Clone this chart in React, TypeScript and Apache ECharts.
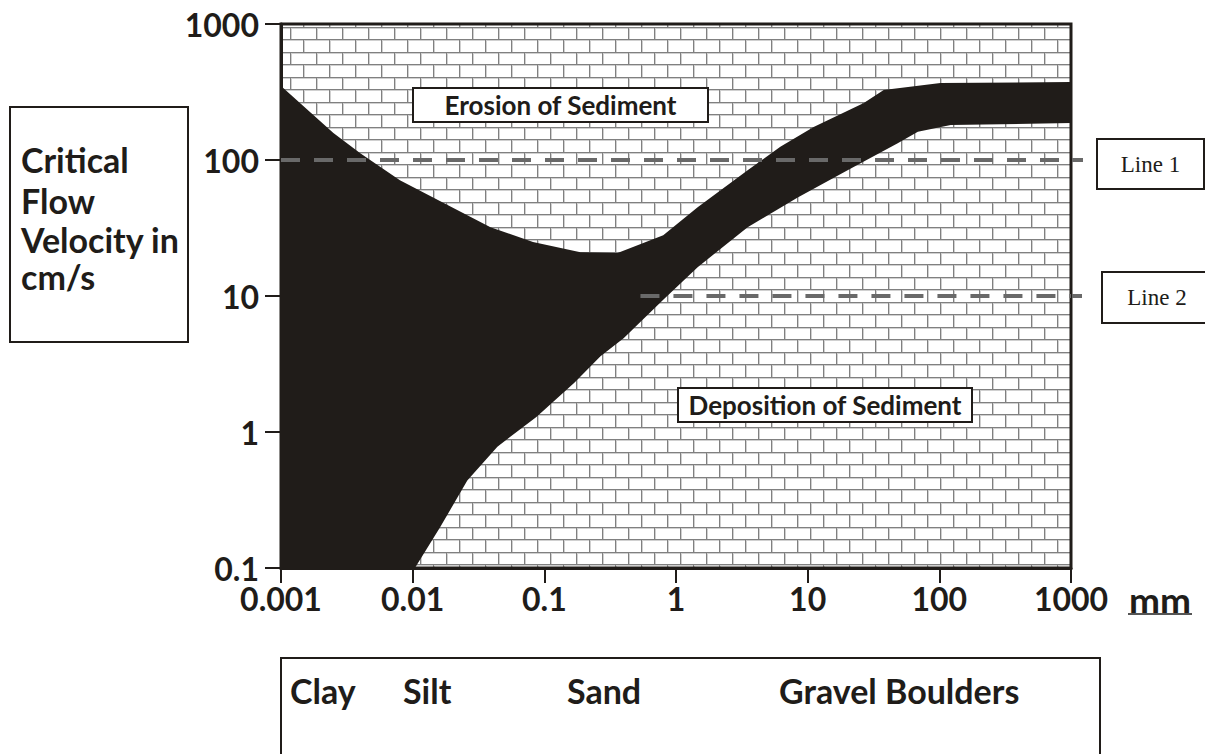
import React, { useEffect, useRef } from "react";
import * as echarts from "echarts";

// ---- data (grain size in mm, critical velocity in cm/s) ----
const xAxisMin = 0.001;
const xAxisMax = 1000;
const yAxisMin = 0.1;
const yAxisMax = 1000;

// upper boundary of the transport band (erosion curve)
const erosionSize = [0.001, 0.0025, 0.004, 0.008, 0.0143, 0.039, 0.082, 0.188, 0.36, 0.8, 1.46, 3.5, 6.2, 11.1, 26.7, 37.8, 102, 1000];
const erosionVelocity = [350, 158, 112, 71, 53, 32, 25, 21, 20.7, 28, 45, 84, 125, 175, 262, 327, 368, 375];

// lower boundary of the transport band (deposition curve)
const depositionSize = [0.0104, 0.0162, 0.026, 0.044, 0.087, 0.169, 0.267, 0.4, 0.8, 1.46, 3.5, 8.4, 20.1, 48.3, 68.7, 122, 1000];
const depositionVelocity = [0.1, 0.2, 0.44, 0.78, 1.29, 2.3, 3.6, 4.9, 9.4, 16.3, 32, 53, 84, 133, 161, 181, 187];

// dashed reference lines
const refLineNames = ["Line 1", "Line 2"];
const refLineVelocity = [100, 10];
const refLineStart = [0.001, 0.537];
const refLineEnd = 1000;

const regionLabels = ["Erosion of Sediment", "Transportation of Sediment", "Deposition of Sediment"];
const grainClasses = ["Clay", "Silt", "Sand", "Gravel Boulders"];
const yTitleLines = ["Critical", "Flow", "Velocity in", "cm/s"];
const xUnit = "mm";

const DARK = "#201c19";
const DASH = "#696969";
const FONT = "Lato";

function makeBrickCanvas(): HTMLCanvasElement {
  const c = document.createElement("canvas");
  c.width = 26;
  c.height = 25;
  const g = c.getContext("2d")!;
  g.fillStyle = "#ffffff";
  g.fillRect(0, 0, 26, 25);
  // light halo
  g.fillStyle = "#d0d0d0";
  g.fillRect(0, 3, 26, 1);
  g.fillRect(0, 15, 26, 1);
  g.fillRect(5, 3, 1, 11);
  g.fillRect(18, 15, 1, 10);
  g.fillRect(18, 0, 1, 2);
  // mortar lines
  g.fillStyle = "#808080";
  g.fillRect(0, 2, 26, 1);
  g.fillRect(0, 14, 26, 1);
  g.fillRect(4, 3, 1, 11);
  g.fillRect(17, 15, 1, 10);
  g.fillRect(17, 0, 1, 2);
  return c;
}

function fmt(v: number): string {
  return String(+v.toPrecision(6));
}

export default function App() {
  const ref = useRef<HTMLDivElement>(null);

  useEffect(() => {
    if (!ref.current) return;
    const chart = echarts.init(ref.current, null, { renderer: "svg" });
    const brick = makeBrickCanvas();

    const textStyle = (fs: number, extra: any = {}) => ({
      fontFamily: FONT,
      fontWeight: "bold",
      fontSize: fs,
      fill: DARK,
      ...extra,
    });

    const boxLabel = (x: number, y: number, w: number, h: number, text: string, fs: number, family = FONT, weight = "bold") => ({
      type: "group",
      z: 100,
      children: [
        { type: "rect", shape: { x, y, width: w, height: h }, style: { fill: "#fff", stroke: DARK, lineWidth: 2 } },
        {
          type: "text",
          x: x + w / 2,
          y: y + h / 2,
          style: { text, fontFamily: family, fontWeight: weight, fontSize: fs, fill: DARK, align: "center", verticalAlign: "middle" },
        },
      ],
    });

    const graphics: any[] = [
      // y-axis title box
      { type: "rect", z: 100, shape: { x: 10, y: 107, width: 178, height: 235 }, style: { fill: "#fff", stroke: DARK, lineWidth: 2 } },
      ...yTitleLines.map((t, i) => ({
        type: "text",
        z: 101,
        x: 21,
        y: [159, 200, 239, 276][i],
        style: textStyle(34, { text: t, align: "left", verticalAlign: "middle" }),
      })),
      boxLabel(413, 88, 295, 34, regionLabels[0], 26),
      boxLabel(293, 271, 345, 31, regionLabels[1], 24.5),
      boxLabel(678, 388, 294, 34, regionLabels[2], 26),
      boxLabel(1097, 139, 107, 50, refLineNames[0], 23, "Liberation Serif", "normal"),
      boxLabel(1102, 272, 110, 51, refLineNames[1], 23, "Liberation Serif", "normal"),
      // short dashed stubs past the right frame
      { type: "line", z: 6, shape: { x1: 1072, y1: 160, x2: 1083, y2: 160 }, style: { stroke: DASH, lineWidth: 4 } },
      { type: "line", z: 6, shape: { x1: 1072, y1: 296, x2: 1082, y2: 296 }, style: { stroke: DASH, lineWidth: 4 } },
      // unit
      { type: "text", z: 100, x: 1160, y: 599, style: textStyle(37, { text: xUnit, align: "center", verticalAlign: "middle" }) },
      { type: "line", z: 100, shape: { x1: 1128, y1: 614, x2: 1192, y2: 614 }, style: { stroke: "#555", lineWidth: 2 } },
      // grain class box
      { type: "rect", z: 100, shape: { x: 281, y: 658, width: 819, height: 140 }, style: { fill: "#fff", stroke: DARK, lineWidth: 2 } },
      ...grainClasses.map((t, i) => ({
        type: "text",
        z: 101,
        x: [290, 403, 567, 779][i],
        y: 690,
        style: textStyle(34, { text: t, align: "left", verticalAlign: "middle" }),
      })),
    ];

    const option: any = {
      animation: false,
      grid: {
        left: 281,
        right: 134,
        top: 24,
        bottom: 186,
        show: true,
        backgroundColor: { image: brick, repeat: "repeat", imageWidth: 26, imageHeight: 25 },
        borderColor: DARK,
        borderWidth: 3,
        outerBoundsMode: "none",
      },
      xAxis: {
        type: "log",
        logBase: 10,
        min: xAxisMin,
        max: xAxisMax,
        axisLine: { show: true, lineStyle: { color: DARK, width: 3 } },
        axisTick: { show: true, inside: false, length: 15, lineStyle: { color: DARK, width: 2 } },
        minorTick: { show: false },
        splitLine: { show: false },
        axisLabel: {
          formatter: (v: number) => fmt(v),
          fontFamily: FONT,
          fontWeight: "bold",
          fontSize: 32,
          color: DARK,
          margin: 14,
        },
      },
      yAxis: {
        type: "log",
        logBase: 10,
        min: yAxisMin,
        max: yAxisMax,
        axisLine: { show: true, lineStyle: { color: DARK, width: 3 } },
        axisTick: { show: true, inside: false, length: 16, lineStyle: { color: DARK, width: 2 } },
        minorTick: { show: false },
        splitLine: { show: false },
        axisLabel: {
          formatter: (v: number) => fmt(v),
          fontFamily: FONT,
          fontWeight: "bold",
          fontSize: 32,
          color: DARK,
          margin: 22,
        },
      },
      series: [
        {
          type: "custom",
          silent: true,
          z: 2,
          data: [[1, 1]],
          renderItem: (_params: any, api: any) => {
            const pts: number[][] = [];
            for (let i = 0; i < erosionSize.length; i++) pts.push(api.coord([erosionSize[i], erosionVelocity[i]]));
            for (let i = depositionSize.length - 1; i >= 0; i--) pts.push(api.coord([depositionSize[i], depositionVelocity[i]]));
            pts.push(api.coord([xAxisMin, yAxisMin]));
            return { type: "polygon", shape: { points: pts }, style: { fill: DARK } };
          },
        },
        ...refLineNames.map((name, i) => ({
          type: "line",
          name,
          silent: true,
          z: 5,
          clip: false,
          symbol: "none",
          data: [
            [refLineStart[i], refLineVelocity[i]],
            [refLineEnd, refLineVelocity[i]],
          ],
          lineStyle: { color: DASH, width: 4, type: [19, 14], cap: "butt" },
        })),
      ],
      graphic: graphics,
    };

    chart.setOption(option);
    return () => chart.dispose();
  }, []);

  return (
    <div
      ref={ref}
      style={{ position: "fixed", left: 0, top: 0, width: 1205, height: 754, background: "#fff" }}
    />
  );
}
